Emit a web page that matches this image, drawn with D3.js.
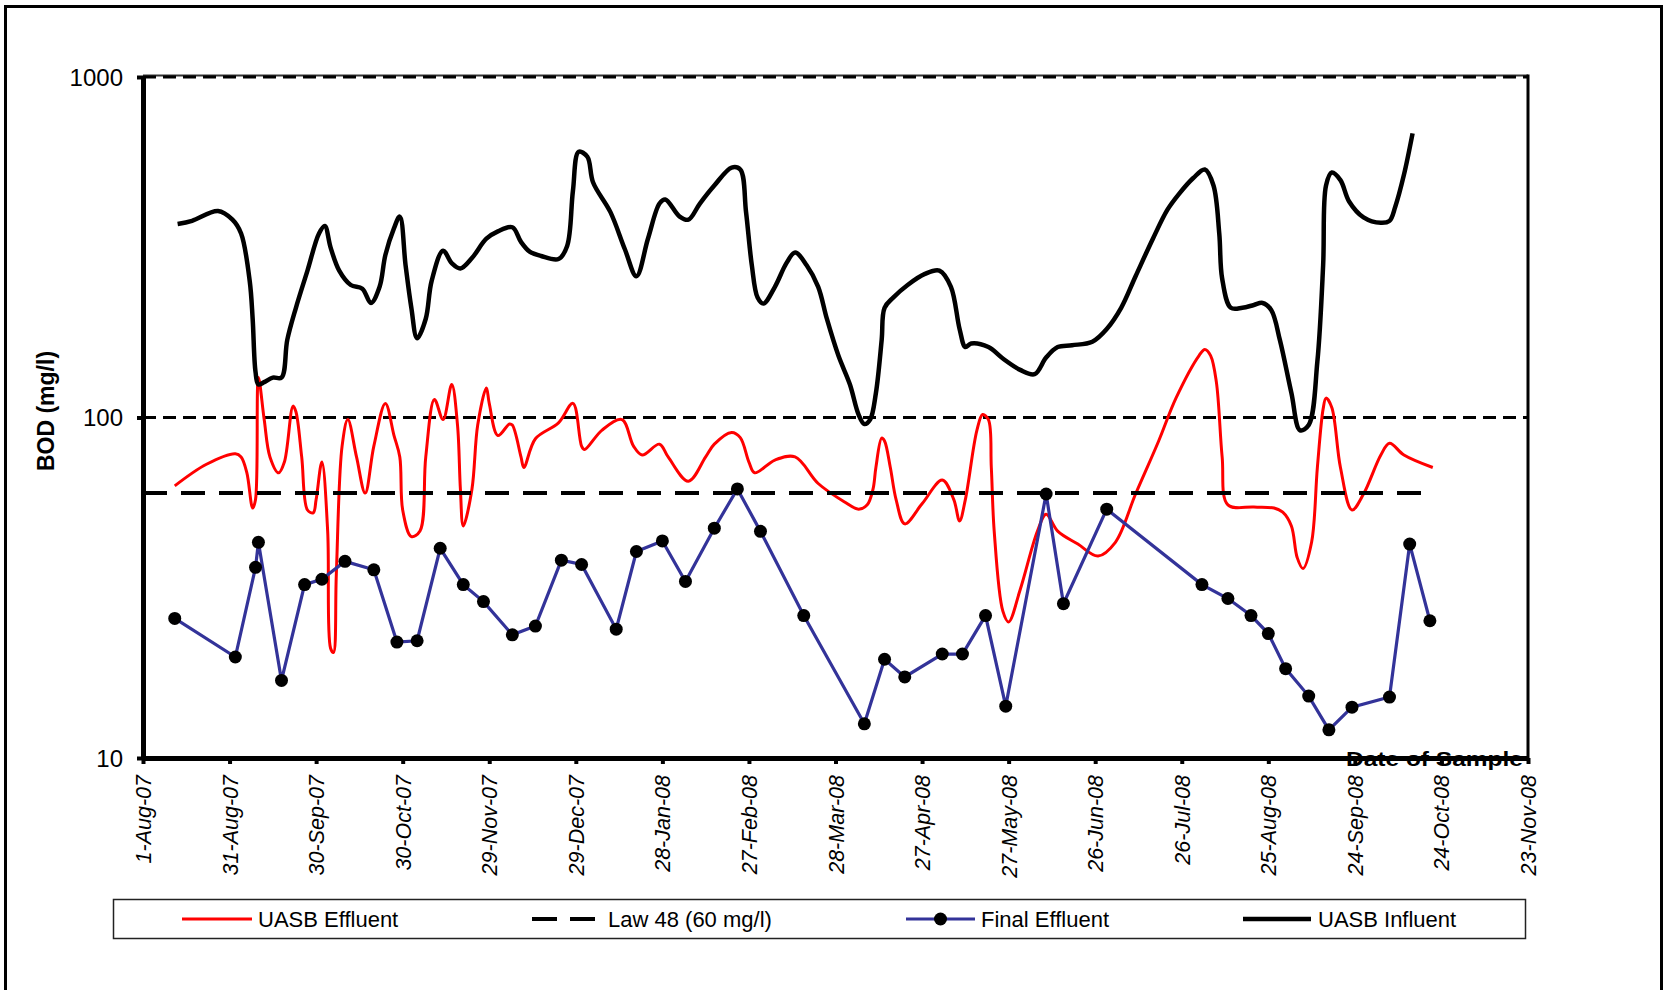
<!DOCTYPE html>
<html>
<head>
<meta charset="utf-8">
<script src="https://cdn.jsdelivr.net/npm/d3@7"></script>
<style>
  html, body { margin: 0; padding: 0; background: #fff; }
  svg { display: block; font-family: "Liberation Sans", Arial, sans-serif; }
</style>
</head>
<body>
<svg id="chart" width="1667" height="990"></svg>
<script>
// ---- data -------------------------------------------------------------
const tickDates = ['2007-08-01','2007-08-31','2007-09-30','2007-10-30','2007-11-29','2007-12-29',
  '2008-01-28','2008-02-27','2008-03-28','2008-04-27','2008-05-27','2008-06-26','2008-07-26',
  '2008-08-25','2008-09-24','2008-10-24','2008-11-23'];
const tickLabels = ['1-Aug-07','31-Aug-07','30-Sep-07','30-Oct-07','29-Nov-07','29-Dec-07',
  '28-Jan-08','27-Feb-08','28-Mar-08','27-Apr-08','27-May-08','26-Jun-08','26-Jul-08',
  '25-Aug-08','24-Sep-08','24-Oct-08','23-Nov-08'];
const yTicks = [10, 100, 1000];
const gridValues = [100, 1000];

const seriesNames = ['UASB Effluent', 'Law 48 (60 mg/l)', 'Final Effluent', 'UASB Influent'];

// UASB Influent BOD (mg/l)
const influentDates = [
  '2007-08-13','2007-08-18','2007-08-27','2007-09-01','2007-09-04','2007-09-07','2007-09-08','2007-09-09',
  '2007-09-10','2007-09-12','2007-09-15','2007-09-18','2007-09-20','2007-09-23','2007-09-27','2007-10-01',
  '2007-10-03','2007-10-05','2007-10-08','2007-10-12','2007-10-16','2007-10-19','2007-10-22','2007-10-24',
  '2007-10-27','2007-10-29','2007-10-31','2007-11-02','2007-11-04','2007-11-07','2007-11-09','2007-11-13',
  '2007-11-16','2007-11-19','2007-11-23','2007-11-28','2007-12-02','2007-12-07','2007-12-10','2007-12-13',
  '2007-12-17','2007-12-23','2007-12-26','2007-12-28','2007-12-30','2008-01-02','2008-01-04','2008-01-10',
  '2008-01-15','2008-01-19','2008-01-23','2008-01-27','2008-01-29','2008-02-03','2008-02-06','2008-02-10',
  '2008-02-15','2008-02-21','2008-02-24','2008-02-26','2008-02-28','2008-03-01','2008-03-03','2008-03-07',
  '2008-03-11','2008-03-14','2008-03-18','2008-03-22','2008-03-25','2008-03-29','2008-04-02','2008-04-05',
  '2008-04-07','2008-04-09','2008-04-11','2008-04-13','2008-04-14','2008-04-17','2008-04-22','2008-04-28',
  '2008-05-03','2008-05-07','2008-05-10','2008-05-12','2008-05-14','2008-05-20','2008-05-25','2008-05-31',
  '2008-06-05','2008-06-09','2008-06-13','2008-06-18','2008-06-25','2008-06-30','2008-07-05','2008-07-10',
  '2008-07-16','2008-07-21','2008-07-25','2008-07-30','2008-08-03','2008-08-06','2008-08-08','2008-08-09',
  '2008-08-12','2008-08-16','2008-08-20','2008-08-23','2008-08-26','2008-08-29','2008-09-02','2008-09-05',
  '2008-09-08','2008-09-11','2008-09-13','2008-09-14','2008-09-16','2008-09-19','2008-09-22','2008-09-27',
  '2008-10-03','2008-10-06','2008-10-08','2008-10-11','2008-10-14'];
const influentBOD = [
  370,378,404,381,347,251,195,136,
  125,127,131,131,169,210,270,347,
  365,316,270,245,239,217,242,300,
  360,389,280,210,171,195,251,309,
  284,274,294,335,352,362,328,307,
  298,292,319,463,603,583,490,401,
  312,260,335,425,437,389,381,425,
  480,542,535,401,280,225,216,242,
  284,305,280,242,195,152,125,102,
  95.7,98.6,118,169,210,225,245,264,
  270,242,182,161,165,161,149,138,
  134,150,161,163,167,182,210,260,
  335,407,453,505,535,480,347,256,
  210,210,214,217,207,169,118,91.7,
  95,146,280,480,524,498,431,387,
  373,378,416,516,683];

// UASB Effluent BOD (mg/l)
const effluentDates = [
  '2007-08-12','2007-08-23','2007-09-02','2007-09-04','2007-09-06','2007-09-08','2007-09-09','2007-09-10',
  '2007-09-12','2007-09-14','2007-09-17','2007-09-19','2007-09-22','2007-09-23','2007-09-25','2007-09-27',
  '2007-09-29','2007-09-30','2007-10-02','2007-10-04','2007-10-05','2007-10-06','2007-10-07','2007-10-09',
  '2007-10-11','2007-10-14','2007-10-17','2007-10-20','2007-10-24','2007-10-27','2007-10-29','2007-10-30',
  '2007-11-02','2007-11-05','2007-11-07','2007-11-10','2007-11-13','2007-11-16','2007-11-18','2007-11-19',
  '2007-11-20','2007-11-23','2007-11-25','2007-11-28','2007-11-29','2007-12-02','2007-12-06','2007-12-07',
  '2007-12-10','2007-12-11','2007-12-15','2007-12-23','2007-12-28','2007-12-31','2008-01-01','2008-01-07',
  '2008-01-14','2008-01-18','2008-01-21','2008-01-27','2008-01-30','2008-02-06','2008-02-12','2008-02-15',
  '2008-02-21','2008-02-24','2008-02-27','2008-02-29','2008-03-07','2008-03-14','2008-03-22','2008-03-31',
  '2008-04-05','2008-04-08','2008-04-10','2008-04-11','2008-04-13','2008-04-14','2008-04-16','2008-04-18',
  '2008-04-21','2008-04-27','2008-05-04','2008-05-08','2008-05-10','2008-05-12','2008-05-16','2008-05-18',
  '2008-05-20','2008-05-21','2008-05-22','2008-05-25','2008-05-27','2008-05-31','2008-06-06','2008-06-09',
  '2008-06-13','2008-06-20','2008-06-27','2008-07-03','2008-07-10','2008-07-18','2008-07-24','2008-08-01',
  '2008-08-03','2008-08-05','2008-08-07','2008-08-09','2008-08-11','2008-08-20','2008-08-27','2008-08-30',
  '2008-09-02','2008-09-04','2008-09-06','2008-09-09','2008-09-11','2008-09-13','2008-09-14','2008-09-16',
  '2008-09-19','2008-09-23','2008-09-27','2008-10-03','2008-10-06','2008-10-11','2008-10-21'];
const effluentBOD = [
  63,72.9,78.3,76.6,68.8,54.2,57.4,131,
  98.6,76.6,68.8,74,108,104,76.6,53.5,
  52.5,57.4,74,46.4,21,20.4,34.7,82.4,
  98.6,76.6,60,82.4,110,88.5,76.6,53.5,
  44.7,46.4,76.6,113,98.6,125,95,61.6,
  48,61.6,95,122,110,88.5,95.7,95,
  76.6,71.3,86.6,96.4,110,82.4,80.5,91.7,
  98.6,82.4,77.6,83.5,76.6,65,76.6,83.5,
  90.4,87.3,74,68.8,75,76.6,64,56.6,
  53.8,55.4,61.6,71.3,87,85.3,71.3,57.4,
  48.7,55.8,65.5,57.4,49.7,57.4,91.7,102,
  98.6,71.3,46.4,27,25.1,31.2,46.4,52,
  46.4,42.5,39.2,43,59.6,85.3,114,152,
  158.5,152,127,76.6,55.4,54.6,54.2,52.7,
  48,38.8,36,43,71.3,106,114,107,
  71.3,53.5,59.6,77.6,84,77.6,71.3];

// Final Effluent BOD (mg/l)
const finalDates = [
  '2007-08-12','2007-09-02','2007-09-09','2007-09-10','2007-09-18','2007-09-26','2007-10-02','2007-10-10',
  '2007-10-20','2007-10-28','2007-11-04','2007-11-12','2007-11-20','2007-11-27','2007-12-07','2007-12-15',
  '2007-12-24','2007-12-31','2008-01-12','2008-01-19','2008-01-28','2008-02-05','2008-02-15','2008-02-23',
  '2008-03-02','2008-03-17','2008-04-07','2008-04-14','2008-04-21','2008-05-04','2008-05-11','2008-05-19',
  '2008-05-26','2008-06-09','2008-06-15','2008-06-30','2008-08-02','2008-08-11','2008-08-19','2008-08-25',
  '2008-08-31','2008-09-08','2008-09-15','2008-09-23','2008-10-06','2008-10-13','2008-10-20'];
const finalBOD = [
  25.7,19.8,36.3,43,16.9,32.3,33.5,37.8,
  35.7,21.9,22.1,41.3,32.3,28.8,23,24.4,
  38.1,37,23.9,40.4,43.4,33,47.3,61.7,
  46.3,26.2,12.6,19.5,17.3,20.2,20.2,26.2,
  14.2,59.6,28.4,53.8,32.3,29.4,26.2,23.2,
  18.3,15.2,12.1,14.1,15.1,42.5,25.3];

// Law 48 limit
const lawDates = ['2007-08-01', '2008-10-21'];
const lawBOD = [60, 60];

// ---- layout -----------------------------------------------------------
const parse = d3.timeParse('%Y-%m-%d');
const zip = (ds, vs) => ds.map((d, i) => ({ date: parse(d), value: vs[i] }));

const plot = { left: 143, right: 1528, top: 77, bottom: 758 };
const svg = d3.select('#chart');

svg.append('rect').attr('width', 1667).attr('height', 990).attr('fill', '#fff');
// outer chart frame
svg.append('rect')
  .attr('x', 5.5).attr('y', 6.5).attr('width', 1656).attr('height', 1010)
  .attr('fill', 'none').attr('stroke', '#000').attr('stroke-width', 3);

const x = d3.scaleTime()
  .domain([parse(tickDates[0]), parse(tickDates[tickDates.length - 1])])
  .range([plot.left, plot.right]);
const y = d3.scaleLog().domain([10, 1000]).range([plot.bottom, plot.top]);

// plot area border (top and right)
svg.append('line')
  .attr('x1', plot.left).attr('x2', plot.right)
  .attr('y1', plot.top - 1.5).attr('y2', plot.top - 1.5)
  .attr('stroke', '#333').attr('stroke-width', 2);
svg.append('line')
  .attr('x1', plot.right).attr('x2', plot.right)
  .attr('y1', plot.top - 2.5).attr('y2', plot.bottom)
  .attr('stroke', '#000').attr('stroke-width', 3);

// horizontal gridlines
svg.append('g').selectAll('line').data(gridValues).join('line')
  .attr('x1', plot.left).attr('x2', plot.right)
  .attr('y1', d => y(d)).attr('y2', d => y(d))
  .attr('stroke', '#000').attr('stroke-width', 3.2)
  .attr('stroke-dasharray', '13,7');

// series lines
const smooth = d3.line()
  .x(d => x(d.date)).y(d => y(d.value))
  .curve(d3.curveCatmullRom.alpha(0.5));
const straight = d3.line().x(d => x(d.date)).y(d => y(d.value));

svg.append('path').datum(zip(effluentDates, effluentBOD))
  .attr('d', smooth).attr('fill', 'none')
  .attr('stroke', '#ff0000').attr('stroke-width', 3).attr('stroke-linejoin', 'round');

svg.append('path').datum(zip(lawDates, lawBOD))
  .attr('d', straight).attr('fill', 'none')
  .attr('stroke', '#000').attr('stroke-width', 4).attr('stroke-dasharray', '24,14');

const finalData = zip(finalDates, finalBOD);
svg.append('path').datum(finalData)
  .attr('d', straight).attr('fill', 'none')
  .attr('stroke', '#333399').attr('stroke-width', 3.2);
svg.append('g').selectAll('circle').data(finalData).join('circle')
  .attr('cx', d => x(d.date)).attr('cy', d => y(d.value)).attr('r', 6.5)
  .attr('fill', '#000');

svg.append('path').datum(zip(influentDates, influentBOD))
  .attr('d', smooth).attr('fill', 'none')
  .attr('stroke', '#000').attr('stroke-width', 4.5).attr('stroke-linejoin', 'round');

// ---- axes -------------------------------------------------------------
const yAxis = svg.append('g')
  .attr('transform', `translate(${plot.left},0)`)
  .call(d3.axisLeft(y).tickValues(yTicks).tickFormat(d3.format('d')).tickSize(6).tickSizeOuter(0));
yAxis.select('.domain').attr('stroke-width', 5);
yAxis.selectAll('.tick line').attr('stroke-width', 4);
yAxis.selectAll('.tick text')
  .attr('x', -20).attr('dy', '0.35em')
  .attr('font-size', 24).attr('fill', '#000')
  .style('font-family', '"Liberation Sans", Arial, sans-serif');

const xAxis = svg.append('g')
  .attr('transform', `translate(0,${plot.bottom})`)
  .call(d3.axisBottom(x).tickValues(tickDates.map(parse))
    .tickFormat((d, i) => tickLabels[i]).tickSize(6).tickSizeOuter(0));
xAxis.select('.domain').attr('stroke-width', 5);
xAxis.selectAll('.tick line').attr('stroke-width', 4);
xAxis.selectAll('.tick text')
  .attr('transform', 'rotate(-90)')
  .attr('text-anchor', 'end')
  .attr('x', -17).attr('y', 0).attr('dy', '0.35em')
  .attr('font-size', 21.5).attr('font-style', 'italic').attr('fill', '#000')
  .style('font-family', '"Liberation Sans", Arial, sans-serif');

// axis titles
svg.append('text')
  .attr('transform', 'translate(54,411) rotate(-90)')
  .attr('text-anchor', 'middle')
  .attr('font-size', 23).attr('font-weight', 'bold')
  .text('BOD (mg/l)');

svg.append('text')
  .attr('x', 1346).attr('y', 766)
  .attr('font-size', 21).attr('font-weight', 'bold')
  .attr('textLength', 177).attr('lengthAdjust', 'spacingAndGlyphs')
  .text('Date of Sample');

// ---- legend -----------------------------------------------------------
const legend = svg.append('g');
legend.append('rect')
  .attr('x', 113.5).attr('y', 899.5).attr('width', 1412).attr('height', 39)
  .attr('fill', '#fff').attr('stroke', '#222').attr('stroke-width', 1.5);

const legendY = 919;
const legendItems = [
  { name: seriesNames[0], x1: 182, x2: 252, tx: 258, stroke: '#ff0000', width: 3, dash: null, marker: false },
  { name: seriesNames[1], x1: 532, x2: 595, tx: 608, stroke: '#000', width: 4, dash: '25,13', marker: false },
  { name: seriesNames[2], x1: 906, x2: 975, tx: 981, stroke: '#333399', width: 3.2, dash: null, marker: true },
  { name: seriesNames[3], x1: 1243, x2: 1311, tx: 1318, stroke: '#000', width: 4.5, dash: null, marker: false }
];
const li = legend.selectAll('g.item').data(legendItems).join('g').attr('class', 'item');
li.append('line')
  .attr('x1', d => d.x1).attr('x2', d => d.x2)
  .attr('y1', legendY).attr('y2', legendY)
  .attr('stroke', d => d.stroke).attr('stroke-width', d => d.width)
  .attr('stroke-dasharray', d => d.dash);
li.filter(d => d.marker).append('circle')
  .attr('cx', d => (d.x1 + d.x2) / 2).attr('cy', legendY).attr('r', 6.5).attr('fill', '#000');
li.append('text')
  .attr('x', d => d.tx).attr('y', legendY).attr('dy', '0.35em')
  .attr('font-size', 22).attr('fill', '#000')
  .text(d => d.name);
</script>
</body>
</html>
